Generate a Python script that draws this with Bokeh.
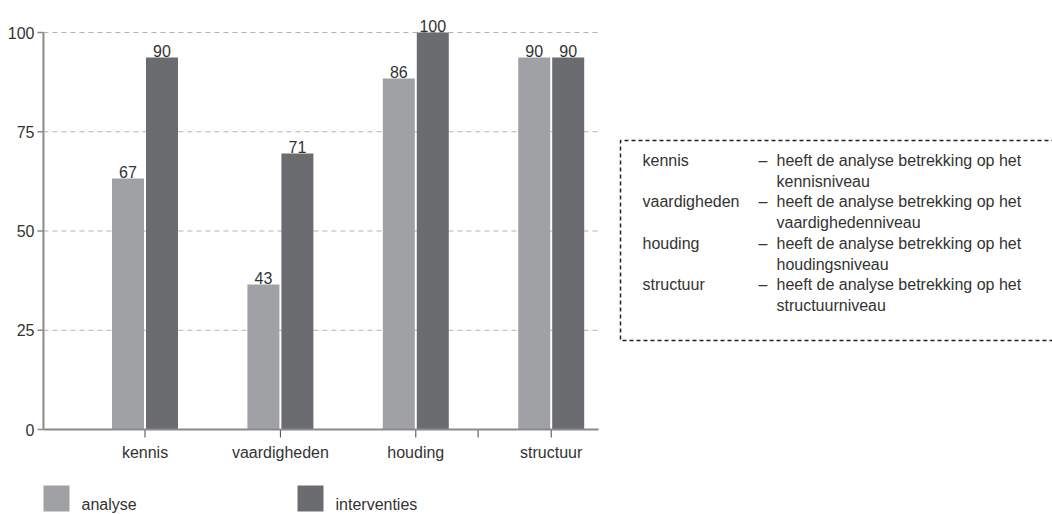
from bokeh.plotting import figure
from bokeh.models import Range1d, ColumnDataSource
from bokeh.embed import file_html
from bokeh.resources import INLINE
from bokeh.core.properties import value

# ---- data ----
categories = ["kennis", "vaardigheden", "houding", "structuur"]
analyse_heights = [63.2, 36.5, 88.4, 93.7]        # drawn bar heights
interventies_heights = [93.7, 69.5, 100.0, 93.7]  # drawn bar heights
analyse_labels = ["67", "43", "86", "90"]         # printed value labels
interventies_labels = ["90", "71", "100", "90"]
y_ticks = [0, 25, 50, 75, 100]
extra_x_tick = [3.46]
series_names = ["analyse", "interventies"]
definitions_head = ["heeft de analyse betrekking op het"] * 4
definitions_tail = ["kennisniveau", "vaardighedenniveau", "houdingsniveau", "structuurniveau"]

# ---- styles / layout ----
FONT = "Liberation Sans"
FS = "16px"
TXT = "#333333"
C_AN = "#a0a1a5"
C_IN = "#6b6c70"
AXIS = "#8a8a8a"
W, H = 1052, 514
KX = 135.4            # px per category step
KY = 3.97             # px per value unit
X_LEFT, X_RIGHT = 0.25, 4.35   # chart area extent in category units
x0 = 1 - 144.5 / KX
y0 = -(H - 429) / KY

pos = list(range(1, len(categories) + 1))
off = 17 / KX
bw = 32 / KX

p = figure(width=W, height=H, output_backend="svg", toolbar_location=None,
           x_range=Range1d(x0, x0 + W / KX), y_range=Range1d(y0, y0 + H / KY),
           x_axis_location=None, y_axis_location=None, min_border=0)
p.outline_line_color = None
p.grid.visible = False
p.extra_x_ranges = {"px": Range1d(0, W)}
p.extra_y_ranges = {"px": Range1d(H, 0)}

# grid lines
gt = y_ticks[1:]
p.segment(x0=[X_LEFT] * len(gt), x1=[X_RIGHT] * len(gt), y0=gt, y1=gt,
          line_color="#b3b3b3", line_dash="5 4", line_width=1)

# bars
src_a = ColumnDataSource(dict(x=[v - off for v in pos], top=analyse_heights, lab=analyse_labels))
src_i = ColumnDataSource(dict(x=[v + off for v in pos], top=interventies_heights, lab=interventies_labels))
p.vbar(x="x", top="top", width=bw, bottom=0, source=src_a, fill_color=C_AN, line_color=None)
p.vbar(x="x", top="top", width=bw, bottom=0, source=src_i, fill_color=C_IN, line_color=None)
for s in (src_a, src_i):
    p.text(x="x", y="top", text="lab", source=s, text_align="center", text_baseline="bottom",
           y_offset=-1, text_font=value(FONT), text_font_size=FS, text_color=TXT)

# y axis
p.segment(x0=[X_LEFT], x1=[X_LEFT], y0=[y_ticks[0]], y1=[y_ticks[-1]], line_color=AXIS, line_width=2)
p.segment(x0=[X_LEFT - 6 / KX] * len(y_ticks), x1=[X_LEFT] * len(y_ticks), y0=y_ticks, y1=y_ticks,
          line_color=AXIS, line_width=1.5)
p.text(x=[X_LEFT] * len(y_ticks), y=y_ticks, text=[str(t) for t in y_ticks], x_offset=-9,
       text_align="right", text_baseline="middle", text_font=value(FONT), text_font_size=FS,
       text_color=TXT)

# x axis
xt = pos + extra_x_tick
p.segment(x0=xt, x1=xt, y0=[0] * len(xt), y1=[-8 / KY] * len(xt), line_color="#444444", line_width=1)
p.segment(x0=[X_LEFT], x1=[X_RIGHT], y0=[0], y1=[0], line_color=AXIS, line_width=2)
p.text(x=pos, y=[0] * len(pos), text=categories, y_offset=14, text_align="center",
       text_baseline="top", text_font=value(FONT), text_font_size=FS, text_color=TXT)

# legend (bottom)
lx = [43, 297]
p.rect(x=[v + 13 for v in lx], y=[498] * 2, width=26, height=26, fill_color=[C_AN, C_IN],
       line_color=None, x_range_name="px", y_range_name="px")
p.text(x=[v + 38 for v in lx], y=[504] * 2, text=series_names, text_baseline="middle",
       text_font=value(FONT), text_font_size=FS, text_color=TXT,
       x_range_name="px", y_range_name="px")

# explanation box (right)
BT, BB, BL = 140, 340, 620
p.line(x=[W + 10, BL, BL, W + 10], y=[BT, BT, BB, BB], line_color="#222222",
       line_width=1.5, line_dash="4 3", x_range_name="px", y_range_name="px")
line_h = 20.7
row0 = 160
tx, ty, texts = [], [], []
for i, (cat, h, t) in enumerate(zip(categories, definitions_head, definitions_tail)):
    yy = row0 + 2 * i * line_h
    tx += [642, 758, 776, 776]
    ty += [yy, yy, yy, yy + line_h]
    texts += [cat, "–", h, t]
p.text(x=tx, y=ty, text=texts, text_baseline="middle", text_align="left",
       text_font=value(FONT), text_font_size=FS, text_color=TXT,
       x_range_name="px", y_range_name="px")

open("out.html", "w").write(file_html(p, INLINE))
